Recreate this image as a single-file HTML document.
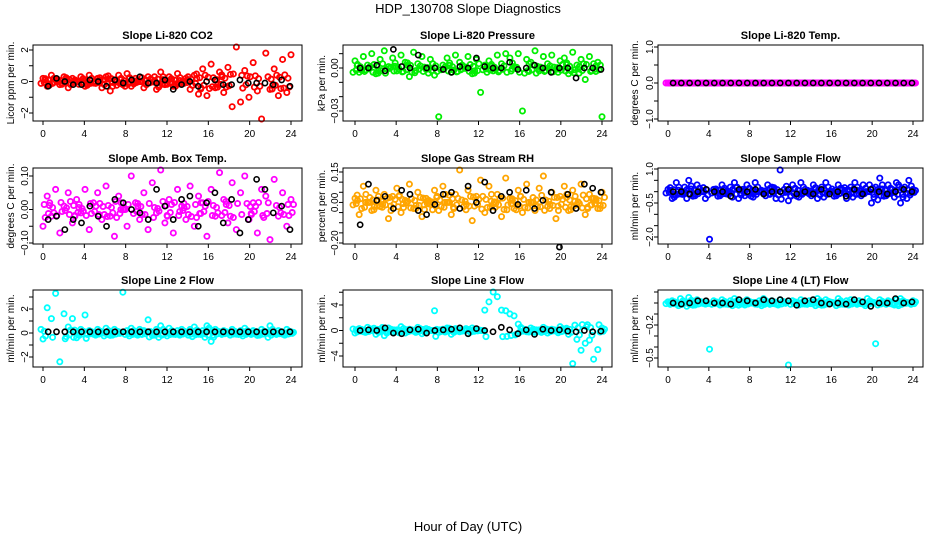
<!DOCTYPE html>
<html><head><meta charset="utf-8"><style>
html,body{margin:0;padding:0;background:#fff;}
svg text{font-family:"Liberation Sans",sans-serif;}
</style></head><body>
<svg id="c" width="936" height="540" viewBox="0 0 936 540" xmlns="http://www.w3.org/2000/svg">
<text x="468" y="13" text-anchor="middle" font-size="13">HDP_130708  Slope Diagnostics</text>
<text x="468" y="531" text-anchor="middle" font-size="13">Hour of Day (UTC)</text>
</svg>
<script>
const titles=["Slope Li-820 CO2","Slope Li-820 Pressure","Slope Li-820 Temp.","Slope Amb. Box Temp.","Slope Gas Stream RH","Slope Sample Flow","Slope Line 2 Flow","Slope Line 3 Flow","Slope Line 4 (LT) Flow"];
const yTitles=["Licor ppm per min.","kPa per min.","degrees C per min.","degrees C per min.","percent per min.","ml/min per min.","ml/min per min.","ml/min per min.","ml/min per min."];
const colors=["#ff0000","#00ee00","#ff00ff","#ff00ff","#ffa500","#0000ff","#00ffff","#00ffff","#00ffff"];
const xTicks=[0,4,8,12,16,20,24];
const yTicks=[[-2,-1,0,1,2],[-0.03,-0.02,-0.01,0,0.01],[-1,-0.5,0,0.5,1],[-0.1,-0.05,0,0.05,0.1],[-0.2,-0.15,-0.1,-0.05,0,0.05,0.1,0.15],[-2,-1.5,-1,-0.5,0,0.5,1],[-3,-2,-1,0,1,2,3],[-6,-4,-2,0,2,4,6],[-0.6,-0.5,-0.4,-0.3,-0.2,-0.1,0,0.1]];
const yLabels=[["-2","0","2"],["-0.03","0.00"],["-1.0","0.0","1.0"],["-0.10","0.00","0.10"],["-0.20","0.00","0.15"],["-2.0","-0.5","1.0"],["-2","0","2"],["-4","0","4"],["-0.5","-0.2"]];
const yLabelVals=[[-2,0,2],[-0.03,0],[-1,0,1],[-0.1,0,0.1],[-0.2,0,0.15],[-2,-0.5,1],[-2,0,2],[-4,0,4],[-0.5,-0.2]];
const s0=[0.2,-0.3,0.4,0.1,-0.2,0.3,-0.4,0.2,0.0,0.3,-0.3,0.4,-0.1,0.2,-0.4,0.3,-0.6,0.1,0.4,-0.2,0.5,-0.3,0.2,0.0,-0.4,0.3,0.1,-0.5,0.6,-0.2,0.3,-0.3,0.5,-0.1,0.2,-0.5,0.4,-0.8,0.8,-0.9,1.1,-0.4,0.6,-0.7,0.9,-1.6,2.2,-1.3,0.7,-1.0,1.2,-0.6,-2.4,1.8,-0.5,0.8,-0.9,1.4,-0.7,1.7];
const b0=[-0.3,0.2,0.0,-0.2,-0.2,0.1,0.0,-0.3,0.1,-0.1,0.1,0.3,-0.1,-0.1,0.1,-0.5,-0.2,0.0,-0.3,0.0,0.1,-0.2,-0.2,0.1,-0.1,-0.1,-0.1,-0.2,0.1,-0.3];
const s1=[0.005,-0.003,0.008,0.002,0.010,-0.004,0.006,0.012,0.001,0.007,-0.002,0.009,0.004,-0.006,0.011,0.003,0.008,-0.001,0.006,-0.005,-0.034,0.002,0.007,-0.003,0.009,0.004,0.001,0.008,-0.004,0.006,-0.017,0.002,0.005,-0.002,0.009,0.003,0.010,0.007,0.001,0.010,-0.030,0.006,0.004,0.012,-0.002,0.008,0.003,0.009,-0.001,0.005,0.007,-0.004,0.011,0.002,0.006,-0.008,0.008,0.003,0.004,-0.034];
const b1=[0.000,0.000,0.002,-0.002,0.013,0.001,0.000,0.009,0.000,0.000,-0.001,-0.003,0.001,0.000,0.007,0.001,0.000,0.000,0.004,-0.001,0.000,0.002,0.000,-0.003,0.000,0.000,-0.007,0.000,0.000,-0.001];
const s2=new Array(60).fill(0);
const b2=new Array(30).fill(0);
const s3=[-0.05,0.04,-0.02,0.06,-0.07,0.01,0.05,-0.04,0.03,-0.01,0.06,-0.06,0.02,0.05,-0.03,0.07,-0.02,-0.08,0.04,0.00,-0.05,0.10,0.02,-0.03,0.05,-0.06,0.08,-0.01,0.12,-0.04,0.03,-0.07,0.06,0.01,-0.03,0.07,-0.05,0.04,0.02,-0.08,0.06,-0.02,0.11,0.03,-0.04,0.08,-0.06,0.05,0.10,-0.03,0.02,-0.07,0.06,0.04,-0.09,0.09,-0.02,0.05,-0.05,0.03];
const b3=[-0.03,-0.02,-0.06,-0.03,-0.04,0.01,-0.02,-0.05,0.03,0.02,0.00,-0.01,-0.03,0.06,0.01,-0.03,0.03,0.04,-0.05,0.02,0.05,-0.04,0.03,-0.07,-0.03,0.09,0.06,-0.01,0.01,-0.06];
const s4=[0.02,-0.06,0.08,0.00,-0.04,0.06,-0.02,0.04,-0.08,0.03,0.07,-0.05,0.01,0.09,-0.03,0.05,-0.07,0.02,-0.01,0.06,-0.04,0.08,0.00,-0.06,0.04,0.16,-0.02,0.06,-0.09,0.03,0.11,-0.05,0.08,-0.01,0.04,-0.07,0.12,0.02,-0.03,0.06,-0.05,0.09,0.00,-0.04,0.07,0.13,-0.02,0.05,-0.08,0.03,0.08,-0.04,0.06,-0.01,0.09,-0.06,0.04,0.02,-0.03,0.05];
const b4=[-0.11,0.09,0.01,0.03,-0.03,0.06,0.04,-0.04,-0.06,-0.01,0.04,0.05,-0.03,0.08,0.00,0.10,-0.04,0.03,0.05,-0.01,0.06,-0.03,0.01,0.05,-0.22,0.04,-0.03,0.09,0.07,0.05];
const s5=[0.1,-0.3,0.4,-0.1,0.2,0.5,-0.2,0.3,0.0,-0.3,-2.1,0.1,-0.2,0.3,-0.1,0.2,0.4,-0.3,0.1,0.3,-0.2,0.4,0.0,-0.1,0.3,0.2,-0.3,1.1,0.1,-0.4,0.3,-0.2,0.4,0.1,-0.1,0.3,-0.3,0.2,0.4,0.0,-0.2,0.3,0.1,-0.3,0.2,0.4,-0.1,0.3,0.0,-0.5,0.2,0.6,-0.2,0.3,0.1,0.4,-0.5,0.2,0.5,0.1];
const b5=[0.0,0.0,-0.1,0.0,0.1,0.0,0.0,-0.2,0.1,0.0,0.1,-0.1,0.0,0.0,0.1,-0.1,0.0,-0.1,0.1,-0.1,0.0,-0.2,0.1,-0.1,0.1,0.0,-0.1,0.0,0.1,0.0];
const s6=[-0.5,2.1,1.2,3.3,-2.4,1.6,0.5,1.2,-0.4,0.3,1.5,0.2,-0.1,0.3,0.0,0.4,-0.2,0.3,0.1,3.4,0.2,0.4,-0.1,0.3,0.2,1.1,-0.2,0.3,0.6,0.1,0.4,-0.1,0.2,0.3,0.0,0.3,0.5,-0.1,0.2,0.6,-0.7,0.3,0.1,0.2,0.0,0.3,-0.1,0.2,0.4,0.0,0.2,-0.2,0.3,0.1,0.6,0.0,0.2,-0.1,0.3,0.1];
const b6=[0.1,0.1,0.1,0.1,0.1,0.1,0.1,0.1,0.1,0.1,0.1,0.1,0.1,0.1,0.1,0.1,0.1,0.1,0.1,0.1,0.1,0.1,0.1,0.1,0.1,0.1,0.1,0.1,0.1,0.1];
const s7=[-0.4,0.3,-0.2,0.5,0.1,-0.6,0.2,-0.8,0.4,-0.3,0.1,0.6,-0.4,0.2,-0.1,0.5,-0.5,0.3,0.0,3.1,-0.3,0.2,0.4,-0.6,0.3,-0.2,0.1,-0.5,0.4,0.2,0.0,3.2,4.5,6.1,5.3,3.2,3.1,2.6,2.3,1.0,0.3,-0.2,0.4,-0.3,0.1,0.5,-0.4,0.2,-0.1,0.6,0.2,-0.6,-5.2,-1.4,-3.1,-2.0,-1.5,-4.5,-3.0,0.4];
const b7=[0.0,0.1,0.0,0.4,-0.4,-0.5,0.1,0.2,-0.4,0.0,0.1,0.2,0.4,-0.5,0.3,0.0,-0.2,0.5,0.1,-0.5,0.1,-0.6,0.2,0.0,0.1,-0.1,-0.2,0.0,-0.2,-0.1];
const s8=[0.01,0.02,-0.01,0.04,0.00,0.05,-0.02,0.03,0.01,-0.01,-0.42,0.02,0.00,0.03,-0.01,0.02,0.04,-0.02,0.01,0.03,0.00,-0.01,0.02,0.04,0.00,0.02,-0.01,0.03,0.01,-0.58,0.02,0.00,0.03,-0.01,0.02,0.01,0.04,-0.02,0.03,0.01,0.00,0.04,-0.01,0.02,0.03,0.00,0.02,-0.01,0.04,0.01,-0.37,0.03,0.00,0.02,-0.01,0.03,0.04,0.01,0.00,0.02];
const b8=[0.00,-0.01,0.00,0.02,0.02,0.00,0.00,-0.01,0.03,0.02,0.00,0.03,0.02,0.03,0.02,-0.02,0.02,0.03,0.00,-0.01,0.00,-0.01,0.03,0.01,-0.03,0.00,0.00,0.04,0.00,0.01];
const series=[s0,s1,s2,s3,s4,s5,s6,s7,s8];
const blacks=[b0,b1,b2,b3,b4,b5,b6,b7,b8];
// layout (geometry only)
const cols=[{x0:33,x1:302,h0:43,h24:291,yt:14},{x0:343,x1:612,h0:355,h24:602,yt:325},{x0:658,x1:923,h0:668,h24:913,yt:638}];
const rows=[{y0:45,y1:121},{y0:168,y1:244},{y0:290,y1:367}];
const ycal=[[-2,113,2,50],[-0.03,111,0,68],[-1,119,1,47],[-0.1,243,0.1,176],[-0.2,243,0.15,172],[-2,237,1,169],[-2,357,2,309],[-4,356,4,305],[-0.5,358,-0.2,325]];
const svg=document.getElementById('c');
const NS='http://www.w3.org/2000/svg';
function mk(t,a){const e=document.createElementNS(NS,t);for(const k in a)e.setAttribute(k,a[k]);svg.appendChild(e);return e;}
for(let p=0;p<9;p++){
  const c=cols[p%3],r=rows[Math.floor(p/3)],cal=ycal[p];
  const xs=h=>c.h0+(c.h24-c.h0)*h/24;
  const ys=v=>cal[1]+(v-cal[0])*(cal[3]-cal[1])/(cal[2]-cal[0]);
  const clampY=y=>Math.max(r.y0+2,Math.min(r.y1-2,y));
  const t=mk('text',{x:(c.x0+c.x1)/2,y:r.y0-6,'text-anchor':'middle','font-size':'11','font-weight':'bold'});
  t.textContent=titles[p];
  
  
  const cy=(r.y0+r.y1)/2;
  const yt=mk('text',{x:c.yt,y:cy,'text-anchor':'middle','font-size':'10',transform:`rotate(-90 ${c.yt} ${cy})`});
  yt.textContent=yTitles[p];
  
  
  xTicks.forEach(h=>{
    const x=xs(h);
    const l=mk('line',{x1:x,x2:x,y1:r.y1,y2:r.y1+4,stroke:'#000'});
    
    
    const tx=mk('text',{x:x,y:r.y1+16,'text-anchor':'middle','font-size':'10'});
    tx.textContent=h;
    
    
  });
  yTicks[p].forEach(v=>{
    const y=ys(v); if(y<r.y0-1||y>r.y1+1) return;
    const l=mk('line',{x1:c.x0-4,x2:c.x0,y1:y,y2:y,stroke:'#000'});
    
    
  });
  yLabelVals[p].forEach((v,i)=>{
    const y=ys(v),x=c.x0-5;
    const tx=mk('text',{x:x,y:y,'text-anchor':'middle','font-size':'10',transform:`rotate(-90 ${x} ${y})`});
    tx.textContent=yLabels[p][i].replace('-','\u2212');
    
    
  });
  const s=series[p];
  s.forEach((v,i)=>{
    const h=i*24/(s.length-1);
    [[0,1],[2.5,0.5],[-2,-0.6],[1.2,-0.3]].forEach(([dx,f],k)=>{
      if(k>0 && Math.abs(v*f)>Math.abs(cal[2]-cal[0])*0.12) return;
      const pt=mk('circle',{cx:xs(h)+dx,cy:clampY(ys(v*f)),r:2.6,fill:'none',stroke:colors[p],'stroke-width':1.8});
      
      
    });
  });
  const b=blacks[p];
  b.forEach((v,i)=>{
    const h=0.5+i*23.4/(b.length-1);
    const pt=mk('circle',{cx:xs(h),cy:ys(v),r:2.6,fill:'none',stroke:'#000','stroke-width':1.6});
    
    
  });
  const box=mk('rect',{x:c.x0,y:r.y0,width:c.x1-c.x0,height:r.y1-r.y0,fill:'none',stroke:'#000'});
  
  
}
</script>
</body></html>
